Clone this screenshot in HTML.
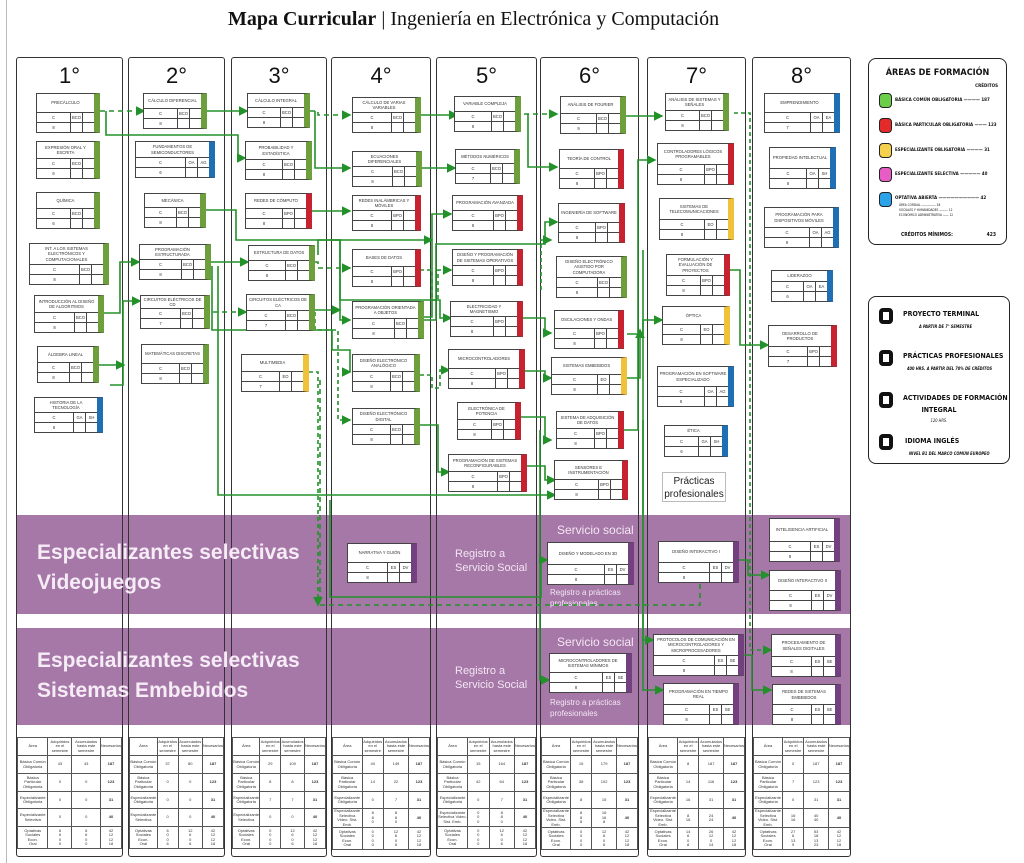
<!DOCTYPE html>
<html><head><meta charset="utf-8">
<style>
body{margin:0;width:1024px;height:863px;position:relative;background:#fff;overflow:hidden;font-family:"Liberation Sans",sans-serif}
.abs{position:absolute}
.col{position:absolute;top:57px;height:800px;border:1px solid #333;border-radius:3px;box-sizing:border-box}
.sem{position:absolute;top:5px;width:100%;text-align:center;font-size:22px;color:#111}
.band{position:absolute;left:16px;width:834px;background:#a678a8}
.bt{position:absolute;color:#f6ecf6;font-weight:bold;font-size:21px;line-height:30px}
.wt{position:absolute;color:#f3e6f3;font-size:11px;line-height:14px}
.b{position:absolute;box-sizing:border-box;border:1px solid #444;border-right:6px solid #6d9f3c;background:#fff;display:flex;flex-direction:column;font-size:4.2px;color:#333}
.b.r{border-right-color:#c62230}.b.u{border-right-color:#1f6fb4}.b.y{border-right-color:#f0c23a}.b.p{border-right-color:#73407f}
.t{flex:1;display:flex;align-items:center;justify-content:center;text-align:center;padding:0 1px;line-height:1.2}
.rw{height:9px;display:flex;border-top:1px solid #444}
.rw span{width:11px;border-left:1px solid #444;display:flex;align-items:center;justify-content:center}
.rw span:first-child{flex:1;border-left:0}
table{position:absolute;top:737px;border-collapse:collapse;font-size:4px;color:#333;background:#fff}
td{border:1px solid #555;text-align:center;padding:0;line-height:4.5px}
.leg{position:absolute;border:1.5px solid #222;border-radius:8px;box-sizing:border-box;font-family:"DejaVu Sans Condensed","DejaVu Sans",sans-serif;color:#111}
.leg div{white-space:nowrap}
.sq{position:absolute;width:13px;height:15px;border:1.5px solid #222;border-radius:4px;box-sizing:border-box}
.bk{position:absolute;width:14px;height:16px;border:4px solid #111;border-radius:4px;box-sizing:border-box}
</style></head><body>
<div class="abs" style="left:6px;top:0;width:1px;height:863px;background:#bbb"></div>
<div class="abs" style="left:228px;top:8px;font-family:'Liberation Serif',serif;font-size:20px;color:#111;white-space:nowrap"><b>Mapa Curricular</b> | Ingeniería en Electrónica y Computación</div>

<div class="band" style="top:515px;height:99px"></div>
<div class="band" style="top:628px;height:97px"></div>

<div class="col" style="left:16px;width:107px"><div class="sem">1°</div></div>
<div class="col" style="left:128px;width:97px"><div class="sem">2°</div></div>
<div class="col" style="left:231px;width:96px"><div class="sem">3°</div></div>
<div class="col" style="left:331px;width:100px"><div class="sem">4°</div></div>
<div class="col" style="left:436px;width:101px"><div class="sem">5°</div></div>
<div class="col" style="left:540px;width:99px"><div class="sem">6°</div></div>
<div class="col" style="left:647px;width:99px"><div class="sem">7°</div></div>
<div class="col" style="left:752px;width:99px"><div class="sem">8°</div></div>

<div class="bt" style="left:37px;top:538px">Especializantes selectivas<br>Videojuegos</div>
<div class="bt" style="left:37px;top:646px">Especializantes selectivas<br>Sistemas Embebidos</div>
<div class="wt" style="left:455px;top:547px">Registro a<br>Servicio Social</div>
<div class="wt" style="left:455px;top:664px">Registro a<br>Servicio Social</div>
<div class="wt" style="left:557px;top:523px;font-size:12px">Servicio social</div>
<div class="wt" style="left:557px;top:635px;font-size:12px">Servicio social</div>
<div class="wt" style="left:550px;top:587px;font-size:8px;line-height:11px">Registro a prácticas<br>profesionales</div>
<div class="wt" style="left:550px;top:697px;font-size:8px;line-height:11px">Registro a prácticas<br>profesionales</div>

<svg class="abs" style="left:0;top:0" width="1024" height="863">
<defs><marker id="a" markerWidth="6" markerHeight="6" refX="5" refY="3" orient="auto"><path d="M0,0L6,3L0,6z" fill="#23912a"/></marker></defs>
<g fill="none" stroke="#23912a" stroke-width="1.6" marker-end="url(#a)">
<path d="M100,111H144" stroke-dasharray="5,4"/>
<path d="M106,111V135H238V158H245"/>
<path d="M207,111H247"/>
<path d="M310,111H318V115H350" stroke-dasharray="5,4"/>
<path d="M315,111V168H350"/>
<path d="M312,211H350"/>
<path d="M315,262H318V268H350" stroke-dasharray="5,4"/>
<path d="M318,255V240H340V320H350"/>
<path d="M421,115H457"/>
<path d="M421,168H455"/>
<path d="M524,114H557" stroke-dasharray="5,4"/>
<path d="M528,114V167H557"/>
<path d="M624,116H662"/>
<path d="M104,313H120V262H139"/>
<path d="M110,385H123V301H140"/>
<path d="M99,365H124"/>
<path d="M210,262H248"/>
<path d="M212,266V330H332V350H350V372H350"/>
<path d="M213,312H246" stroke-dasharray="5,4"/>
<path d="M206,210H236V240H340V300H440V318H451"/>
<path d="M218,266V495H555"/>
<path d="M312,310H340"/>
<path d="M315,312V330H338V420H350" stroke-dasharray="4,3"/>
<path d="M420,317H432V214H451"/>
<path d="M420,270H432V300H438V270H451" stroke-dasharray="4,3"/>
<path d="M330,240H432V240"/>
<path d="M420,320H436V244H545V222H557"/>
<path d="M420,375H432V388H440V370H449" stroke-dasharray="4,3"/>
<path d="M420,425H438V472H449"/>
<path d="M520,318H545V333H551"/>
<path d="M524,371H545V378H551"/>
<path d="M520,417H545V440H551"/>
<path d="M527,466H545V480H555"/>
<path d="M627,334H643V320H662"/>
<path d="M626,378H640V330"/>
<path d="M624,430H638V160H655"/>
<path d="M730,270H740V345H768"/>
<path d="M734,113H750V650H771" stroke-dasharray="4,3"/>
<path d="M643,250V690H663"/>
<path d="M643,420V640H653"/>
<path d="M738,560H748V575H769"/>
<path d="M744,655H752V690H771"/>
<path d="M330,500V597H541V560H547"/>
<path d="M320,380V605H700V575" stroke-dasharray="5,4"/>
<path d="M540,430V680H549"/>
<path d="M309,372H318V605" stroke-dasharray="4,3"/>
<path d="M541,290V240H551" stroke-dasharray="4,3"/>
</g>
</svg>

<!-- col1 -->
<div class="b" style="left:36px;top:93px;width:64px;height:40px"><div class="t">PRECÁLCULO</div><div class="rw"><span>C</span><span>BCO</span><span></span></div><div class="rw"><span>8</span><span></span><span></span></div></div>
<div class="b" style="left:36px;top:141px;width:64px;height:38px"><div class="t">EXPRESIÓN ORAL Y ESCRITA</div><div class="rw"><span>C</span><span>BCO</span><span></span></div><div class="rw"><span>6</span><span></span><span></span></div></div>
<div class="b" style="left:36px;top:192px;width:64px;height:37px"><div class="t">QUÍMICA</div><div class="rw"><span>C</span><span>BCO</span><span></span></div><div class="rw"><span>6</span><span></span><span></span></div></div>
<div class="b" style="left:29px;top:243px;width:80px;height:42px"><div class="t">INT. A LOS SISTEMAS ELECTRÓNICOS Y COMPUTACIONALES</div><div class="rw"><span>C</span><span>BCO</span><span></span></div><div class="rw"><span>8</span><span></span><span></span></div></div>
<div class="b" style="left:34px;top:295px;width:70px;height:38px"><div class="t">INTRODUCCIÓN AL DISEÑO DE ALGORITMOS</div><div class="rw"><span>C</span><span>BCO</span><span></span></div><div class="rw"><span>8</span><span></span><span></span></div></div>
<div class="b" style="left:37px;top:346px;width:62px;height:37px"><div class="t">ÁLGEBRA LINEAL</div><div class="rw"><span>C</span><span>BCO</span><span></span></div><div class="rw"><span>8</span><span></span><span></span></div></div>
<div class="b u" style="left:34px;top:397px;width:69px;height:36px"><div class="t">HISTORIA DE LA TECNOLOGÍA</div><div class="rw"><span>C</span><span>GA</span><span>SH</span></div><div class="rw"><span>6</span><span></span><span></span></div></div>
<!-- col2 -->
<div class="b" style="left:143px;top:93px;width:64px;height:36px"><div class="t">CÁLCULO DIFERENCIAL</div><div class="rw"><span>C</span><span>BCO</span><span></span></div><div class="rw"><span>8</span><span></span><span></span></div></div>
<div class="b u" style="left:135px;top:141px;width:80px;height:37px"><div class="t">FUNDAMENTOS DE SEMICONDUCTORES</div><div class="rw"><span>C</span><span>OA</span><span>AG</span></div><div class="rw"><span>6</span><span></span><span></span></div></div>
<div class="b" style="left:144px;top:193px;width:62px;height:35px"><div class="t">MECÁNICA</div><div class="rw"><span>C</span><span>BCO</span><span></span></div><div class="rw"><span>8</span><span></span><span></span></div></div>
<div class="b" style="left:139px;top:244px;width:72px;height:36px"><div class="t">PROGRAMACIÓN ESTRUCTURADA</div><div class="rw"><span>C</span><span>BCO</span><span></span></div><div class="rw"><span>8</span><span></span><span></span></div></div>
<div class="b" style="left:140px;top:295px;width:70px;height:34px"><div class="t">CIRCUITOS ELÉCTRICOS DE CD</div><div class="rw"><span>C</span><span>BCO</span><span></span></div><div class="rw"><span>7</span><span></span><span></span></div></div>
<div class="b" style="left:141px;top:344px;width:68px;height:40px"><div class="t">MATEMÁTICAS DISCRETAS</div><div class="rw"><span>C</span><span>BCO</span><span></span></div><div class="rw"><span>8</span><span></span><span></span></div></div>
<!-- col3 -->
<div class="b" style="left:247px;top:93px;width:63px;height:35px"><div class="t">CÁLCULO INTEGRAL</div><div class="rw"><span>C</span><span>BCO</span><span></span></div><div class="rw"><span>8</span><span></span><span></span></div></div>
<div class="b" style="left:245px;top:141px;width:67px;height:39px"><div class="t">PROBABILIDAD Y ESTADÍSTICA</div><div class="rw"><span>C</span><span>BCO</span><span></span></div><div class="rw"><span>8</span><span></span><span></span></div></div>
<div class="b r" style="left:245px;top:193px;width:67px;height:36px"><div class="t">REDES DE CÓMPUTO</div><div class="rw"><span>C</span><span>BPO</span><span></span></div><div class="rw"><span>8</span><span></span><span></span></div></div>
<div class="b" style="left:248px;top:245px;width:67px;height:36px"><div class="t">ESTRUCTURA DE DATOS</div><div class="rw"><span>C</span><span>BCO</span><span></span></div><div class="rw"><span>8</span><span></span><span></span></div></div>
<div class="b" style="left:246px;top:294px;width:69px;height:37px"><div class="t">CIRCUITOS ELÉCTRICOS DE CA</div><div class="rw"><span>C</span><span>BCO</span><span></span></div><div class="rw"><span>7</span><span></span><span></span></div></div>
<div class="b y" style="left:241px;top:354px;width:68px;height:38px"><div class="t">MULTIMEDIA</div><div class="rw"><span>C</span><span>EO</span><span></span></div><div class="rw"><span>7</span><span></span><span></span></div></div>
<!-- col4 -->
<div class="b" style="left:352px;top:97px;width:69px;height:36px"><div class="t">CÁLCULO DE VARIAS VARIABLES</div><div class="rw"><span>C</span><span>BCO</span><span></span></div><div class="rw"><span>8</span><span></span><span></span></div></div>
<div class="b" style="left:352px;top:151px;width:70px;height:36px"><div class="t">ECUACIONES DIFERENCIALES</div><div class="rw"><span>C</span><span>BCO</span><span></span></div><div class="rw"><span>8</span><span></span><span></span></div></div>
<div class="b r" style="left:352px;top:195px;width:69px;height:36px"><div class="t">REDES INALÁMBRICAS Y MÓVILES</div><div class="rw"><span>C</span><span>BPO</span><span></span></div><div class="rw"><span>8</span><span></span><span></span></div></div>
<div class="b r" style="left:352px;top:249px;width:69px;height:38px"><div class="t">BASES DE DATOS</div><div class="rw"><span>C</span><span>BPO</span><span></span></div><div class="rw"><span>8</span><span></span><span></span></div></div>
<div class="b" style="left:352px;top:301px;width:72px;height:38px"><div class="t">PROGRAMACIÓN ORIENTADA A OBJETOS</div><div class="rw"><span>C</span><span>BCO</span><span></span></div><div class="rw"><span>8</span><span></span><span></span></div></div>
<div class="b" style="left:352px;top:354px;width:68px;height:38px"><div class="t">DISEÑO ELECTRÓNICO ANALÓGICO</div><div class="rw"><span>C</span><span>BCO</span><span></span></div><div class="rw"><span>8</span><span></span><span></span></div></div>
<div class="b" style="left:352px;top:408px;width:68px;height:37px"><div class="t">DISEÑO ELECTRÓNICO DIGITAL</div><div class="rw"><span>C</span><span>BCO</span><span></span></div><div class="rw"><span>8</span><span></span><span></span></div></div>
<!-- col5 -->
<div class="b" style="left:454px;top:96px;width:67px;height:36px"><div class="t">VARIABLE COMPLEJA</div><div class="rw"><span>C</span><span>BCO</span><span></span></div><div class="rw"><span>8</span><span></span><span></span></div></div>
<div class="b" style="left:455px;top:149px;width:65px;height:35px"><div class="t">MÉTODOS NUMÉRICOS</div><div class="rw"><span>C</span><span>BCO</span><span></span></div><div class="rw"><span>7</span><span></span><span></span></div></div>
<div class="b r" style="left:452px;top:195px;width:71px;height:36px"><div class="t">PROGRAMACIÓN AVANZADA</div><div class="rw"><span>C</span><span>BPO</span><span></span></div><div class="rw"><span>8</span><span></span><span></span></div></div>
<div class="b r" style="left:452px;top:249px;width:71px;height:37px"><div class="t">DISEÑO Y PROGRAMACIÓN DE SISTEMAS OPERATIVOS</div><div class="rw"><span>C</span><span>BPO</span><span></span></div><div class="rw"><span>8</span><span></span><span></span></div></div>
<div class="b r" style="left:450px;top:301px;width:73px;height:36px"><div class="t">ELECTRICIDAD Y MAGNETISMO</div><div class="rw"><span>C</span><span>BPO</span><span></span></div><div class="rw"><span>8</span><span></span><span></span></div></div>
<div class="b r" style="left:448px;top:349px;width:77px;height:40px"><div class="t">MICROCONTROLADORES</div><div class="rw"><span>C</span><span>BPO</span><span></span></div><div class="rw"><span>8</span><span></span><span></span></div></div>
<div class="b r" style="left:457px;top:402px;width:64px;height:38px"><div class="t">ELECTRÓNICA DE POTENCIA</div><div class="rw"><span>C</span><span>BPO</span><span></span></div><div class="rw"><span>8</span><span></span><span></span></div></div>
<div class="b r" style="left:448px;top:454px;width:79px;height:38px"><div class="t">PROGRAMACIÓN DE SISTEMAS RECONFIGURABLES</div><div class="rw"><span>C</span><span>BPO</span><span></span></div><div class="rw"><span>8</span><span></span><span></span></div></div>
<!-- col6 -->
<div class="b" style="left:560px;top:96px;width:66px;height:38px"><div class="t">ANÁLISIS DE FOURIER</div><div class="rw"><span>C</span><span>BCO</span><span></span></div><div class="rw"><span>9</span><span></span><span></span></div></div>
<div class="b r" style="left:559px;top:149px;width:65px;height:40px"><div class="t">TEORÍA DE CONTROL</div><div class="rw"><span>C</span><span>BPO</span><span></span></div><div class="rw"><span>8</span><span></span><span></span></div></div>
<div class="b r" style="left:558px;top:203px;width:67px;height:40px"><div class="t">INGENIERÍA DE SOFTWARE</div><div class="rw"><span>C</span><span>BPO</span><span></span></div><div class="rw"><span>8</span><span></span><span></span></div></div>
<div class="b" style="left:556px;top:256px;width:71px;height:42px"><div class="t">DISEÑO ELECTRÓNICO ASISTIDO POR COMPUTADORA</div><div class="rw"><span>C</span><span>BCO</span><span></span></div><div class="rw"><span>8</span><span></span><span></span></div></div>
<div class="b r" style="left:554px;top:310px;width:70px;height:39px"><div class="t">OSCILACIONES Y ONDAS</div><div class="rw"><span>C</span><span>BPO</span><span></span></div><div class="rw"><span>8</span><span></span><span></span></div></div>
<div class="b y" style="left:551px;top:357px;width:76px;height:38px"><div class="t">SISTEMAS EMBEBIDOS</div><div class="rw"><span>C</span><span>EO</span><span></span></div><div class="rw"><span>8</span><span></span><span></span></div></div>
<div class="b r" style="left:556px;top:411px;width:68px;height:38px"><div class="t">SISTEMA DE ADQUISICIÓN DE DATOS</div><div class="rw"><span>C</span><span>BPO</span><span></span></div><div class="rw"><span>8</span><span></span><span></span></div></div>
<div class="b r" style="left:554px;top:460px;width:74px;height:40px"><div class="t">SENSORES E INSTRUMENTACIÓN</div><div class="rw"><span>C</span><span>BPO</span><span></span></div><div class="rw"><span>8</span><span></span><span></span></div></div>
<!-- col7 -->
<div class="b" style="left:665px;top:93px;width:64px;height:38px"><div class="t">ANÁLISIS DE SISTEMAS Y SEÑALES</div><div class="rw"><span>C</span><span>BCO</span><span></span></div><div class="rw"><span>8</span><span></span><span></span></div></div>
<div class="b r" style="left:657px;top:143px;width:77px;height:42px"><div class="t">CONTROLADORES LÓGICOS PROGRAMABLES</div><div class="rw"><span>C</span><span>BPO</span><span></span></div><div class="rw"><span>8</span><span></span><span></span></div></div>
<div class="b y" style="left:659px;top:198px;width:75px;height:42px"><div class="t">SISTEMAS DE TELECOMUNICACIONES</div><div class="rw"><span>C</span><span>EO</span><span></span></div><div class="rw"><span>8</span><span></span><span></span></div></div>
<div class="b r" style="left:666px;top:254px;width:64px;height:42px"><div class="t">FORMULACIÓN Y EVALUACIÓN DE PROYECTOS</div><div class="rw"><span>C</span><span>BPO</span><span></span></div><div class="rw"><span>8</span><span></span><span></span></div></div>
<div class="b y" style="left:662px;top:306px;width:68px;height:39px"><div class="t">ÓPTICA</div><div class="rw"><span>C</span><span>EO</span><span></span></div><div class="rw"><span>8</span><span></span><span></span></div></div>
<div class="b u" style="left:657px;top:366px;width:77px;height:41px"><div class="t">PROGRAMACIÓN EN SOFTWARE ESPECIALIZADO</div><div class="rw"><span>C</span><span>OA</span><span>AG</span></div><div class="rw"><span>8</span><span></span><span></span></div></div>
<div class="b u" style="left:664px;top:425px;width:64px;height:32px"><div class="t">ÉTICA</div><div class="rw"><span>C</span><span>GA</span><span>SH</span></div><div class="rw"><span>6</span><span></span><span></span></div></div>
<div class="abs" style="left:662px;top:472px;width:64px;height:30px;border:1px solid #bbb;font-size:10px;text-align:center;line-height:13px;color:#222;padding-top:2px;box-sizing:border-box">Prácticas profesionales</div>
<!-- col8 -->
<div class="b u" style="left:764px;top:93px;width:76px;height:40px"><div class="t">EMPRENDIMIENTO</div><div class="rw"><span>C</span><span>OA</span><span>EA</span></div><div class="rw"><span>7</span><span></span><span></span></div></div>
<div class="b u" style="left:769px;top:147px;width:67px;height:42px"><div class="t">PROPIEDAD INTELECTUAL</div><div class="rw"><span>C</span><span>OA</span><span>SH</span></div><div class="rw"><span>6</span><span></span><span></span></div></div>
<div class="b u" style="left:764px;top:207px;width:75px;height:41px"><div class="t">PROGRAMACIÓN PARA DISPOSITIVOS MÓVILES</div><div class="rw"><span>C</span><span>OA</span><span>AG</span></div><div class="rw"><span>9</span><span></span><span></span></div></div>
<div class="b u" style="left:771px;top:270px;width:62px;height:32px"><div class="t">LIDERAZGO</div><div class="rw"><span>C</span><span>OA</span><span>EA</span></div><div class="rw"><span>6</span><span></span><span></span></div></div>
<div class="b r" style="left:768px;top:325px;width:69px;height:42px"><div class="t">DESARROLLO DE PRODUCTOS</div><div class="rw"><span>C</span><span>BPO</span><span></span></div><div class="rw"><span>7</span><span></span><span></span></div></div>
<!-- purple -->
<div class="b p" style="left:347px;top:543px;width:70px;height:40px"><div class="t">NARRATIVA Y GUIÓN</div><div class="rw"><span>C</span><span>ES</span><span>DV</span></div><div class="rw"><span>8</span><span></span><span></span></div></div>
<div class="b p" style="left:547px;top:542px;width:87px;height:43px"><div class="t">DISEÑO Y MODELADO EN 3D</div><div class="rw"><span>C</span><span>ES</span><span>DV</span></div><div class="rw"><span>8</span><span></span><span></span></div></div>
<div class="b p" style="left:658px;top:541px;width:81px;height:42px"><div class="t">DISEÑO INTERACTIVO I</div><div class="rw"><span>C</span><span>ES</span><span>DV</span></div><div class="rw"><span>8</span><span></span><span></span></div></div>
<div class="b p" style="left:769px;top:518px;width:71px;height:44px"><div class="t">INTELIGENCIA ARTIFICIAL</div><div class="rw"><span>C</span><span>ES</span><span>DV</span></div><div class="rw"><span>8</span><span></span><span></span></div></div>
<div class="b p" style="left:769px;top:570px;width:72px;height:41px"><div class="t">DISEÑO INTERACTIVO II</div><div class="rw"><span>C</span><span>ES</span><span>DV</span></div><div class="rw"><span>8</span><span></span><span></span></div></div>
<div class="b p" style="left:549px;top:653px;width:83px;height:40px"><div class="t">MICROCONTROLADORES DE SISTEMAS MÍNIMOS</div><div class="rw"><span>C</span><span>ES</span><span>SE</span></div><div class="rw"><span>8</span><span></span><span></span></div></div>
<div class="b p" style="left:653px;top:634px;width:91px;height:42px"><div class="t">PROTOCOLOS DE COMUNICACIÓN EN MICROCONTROLADORES Y MICROPROCESADORES</div><div class="rw"><span>C</span><span>ES</span><span>SE</span></div><div class="rw"><span>8</span><span></span><span></span></div></div>
<div class="b p" style="left:663px;top:683px;width:76px;height:42px"><div class="t">PROGRAMACIÓN EN TIEMPO REAL</div><div class="rw"><span>C</span><span>ES</span><span>SE</span></div><div class="rw"><span>8</span><span></span><span></span></div></div>
<div class="b p" style="left:771px;top:634px;width:70px;height:43px"><div class="t">PROCESAMIENTO DE SEÑALES DIGITALES</div><div class="rw"><span>C</span><span>ES</span><span>SE</span></div><div class="rw"><span>8</span><span></span><span></span></div></div>
<div class="b p" style="left:772px;top:684px;width:69px;height:41px"><div class="t">REDES DE SISTEMAS EMBEBIDOS</div><div class="rw"><span>C</span><span>ES</span><span>SE</span></div><div class="rw"><span>8</span><span></span><span></span></div></div>

<!-- tables -->
<table style="left:17px;width:105px"><tr style="height:18px"><td>Área</td><td>Adquiridos en el semestre</td><td>Acumulados hasta este semestre</td><td>Necesarios</td></tr><tr style="height:18px"><td>Básica Común Obligatoria</td><td>43</td><td>43</td><td><b>187</b></td></tr><tr style="height:18px"><td>Básica Particular Obligatoria</td><td>0</td><td>0</td><td><b>123</b></td></tr><tr style="height:17px"><td>Especializante Obligatoria</td><td>0</td><td>0</td><td><b>31</b></td></tr><tr style="height:18px"><td>Especializante Selectiva</td><td>0</td><td>0</td><td><b>40</b></td></tr><tr style="height:22px"><td>Optativas<br>Sociales<br>Econ.<br>Oral</td><td>6<br>6<br>0<br>0</td><td>6<br>6<br>0<br>0</td><td>42<br>12<br>12<br>18</td></tr></table>
<table style="left:129px;width:95px"><tr style="height:18px"><td>Área</td><td>Adquiridos en el semestre</td><td>Acumulados hasta este semestre</td><td>Necesarios</td></tr><tr style="height:18px"><td>Básica Común Obligatoria</td><td>37</td><td>80</td><td><b>187</b></td></tr><tr style="height:18px"><td>Básica Particular Obligatoria</td><td>0</td><td>0</td><td><b>123</b></td></tr><tr style="height:17px"><td>Especializante Obligatoria</td><td>0</td><td>0</td><td><b>31</b></td></tr><tr style="height:18px"><td>Especializante Selectiva</td><td>0</td><td>0</td><td><b>40</b></td></tr><tr style="height:22px"><td>Optativas<br>Sociales<br>Econ.<br>Oral</td><td>6<br>0<br>0<br>6</td><td>12<br>6<br>0<br>6</td><td>42<br>12<br>12<br>18</td></tr></table>
<table style="left:232px;width:94px"><tr style="height:18px"><td>Área</td><td>Adquiridos en el semestre</td><td>Acumulados hasta este semestre</td><td>Necesarios</td></tr><tr style="height:18px"><td>Básica Común Obligatoria</td><td>29</td><td>109</td><td><b>187</b></td></tr><tr style="height:18px"><td>Básica Particular Obligatoria</td><td>8</td><td>8</td><td><b>123</b></td></tr><tr style="height:17px"><td>Especializante Obligatoria</td><td>7</td><td>7</td><td><b>31</b></td></tr><tr style="height:18px"><td>Especializante Selectiva</td><td>0</td><td>0</td><td><b>40</b></td></tr><tr style="height:22px"><td>Optativas<br>Sociales<br>Econ.<br>Oral</td><td>0<br>0<br>0<br>0</td><td>12<br>6<br>0<br>6</td><td>42<br>12<br>12<br>18</td></tr></table>
<table style="left:332px;width:98px"><tr style="height:18px"><td>Área</td><td>Adquiridos en el semestre</td><td>Acumulados hasta este semestre</td><td>Necesarios</td></tr><tr style="height:18px"><td>Básica Común Obligatoria</td><td>40</td><td>149</td><td><b>187</b></td></tr><tr style="height:18px"><td>Básica Particular Obligatoria</td><td>14</td><td>22</td><td><b>123</b></td></tr><tr style="height:17px"><td>Especializante Obligatoria</td><td>0</td><td>7</td><td><b>31</b></td></tr><tr style="height:18px"><td>Especializante Selectiva Video. Sist. Emb.</td><td>8<br>8<br>0</td><td>8<br>8<br>0</td><td><b>40</b></td></tr><tr style="height:22px"><td>Optativas<br>Sociales<br>Econ.<br>Oral</td><td>0<br>0<br>0<br>0</td><td>12<br>6<br>0<br>6</td><td>42<br>12<br>12<br>18</td></tr></table>
<table style="left:437px;width:99px"><tr style="height:18px"><td>Área</td><td>Adquiridos en el semestre</td><td>Acumulados hasta este semestre</td><td>Necesarios</td></tr><tr style="height:18px"><td>Básica Común Obligatoria</td><td>15</td><td>164</td><td><b>187</b></td></tr><tr style="height:18px"><td>Básica Particular Obligatoria</td><td>42</td><td>64</td><td><b>123</b></td></tr><tr style="height:17px"><td>Especializante Obligatoria</td><td>0</td><td>7</td><td><b>31</b></td></tr><tr style="height:18px"><td>Especializante Selectiva Video. Sist. Emb.</td><td>0<br>0<br>0</td><td>8<br>8<br>0</td><td><b>40</b></td></tr><tr style="height:22px"><td>Optativas<br>Sociales<br>Econ.<br>Oral</td><td>0<br>0<br>0<br>0</td><td>12<br>6<br>0<br>6</td><td>42<br>12<br>12<br>18</td></tr></table>
<table style="left:541px;width:97px"><tr style="height:18px"><td>Área</td><td>Adquiridos en el semestre</td><td>Acumulados hasta este semestre</td><td>Necesarios</td></tr><tr style="height:18px"><td>Básica Común Obligatoria</td><td>15</td><td>179</td><td><b>187</b></td></tr><tr style="height:18px"><td>Básica Particular Obligatoria</td><td>38</td><td>102</td><td><b>123</b></td></tr><tr style="height:17px"><td>Especializante Obligatoria</td><td>8</td><td>15</td><td><b>31</b></td></tr><tr style="height:18px"><td>Especializante Selectiva Video. Sist. Emb.</td><td>8<br>8<br>8</td><td>16<br>16<br>8</td><td><b>40</b></td></tr><tr style="height:22px"><td>Optativas<br>Sociales<br>Econ.<br>Oral</td><td>0<br>0<br>0<br>0</td><td>12<br>6<br>0<br>6</td><td>42<br>12<br>12<br>18</td></tr></table>
<table style="left:648px;width:97px"><tr style="height:18px"><td>Área</td><td>Adquiridos en el semestre</td><td>Acumulados hasta este semestre</td><td>Necesarios</td></tr><tr style="height:18px"><td>Básica Común Obligatoria</td><td>8</td><td>187</td><td><b>187</b></td></tr><tr style="height:18px"><td>Básica Particular Obligatoria</td><td>14</td><td>116</td><td><b>123</b></td></tr><tr style="height:17px"><td>Especializante Obligatoria</td><td>16</td><td>31</td><td><b>31</b></td></tr><tr style="height:18px"><td>Especializante Selectiva Video. Sist. Emb.</td><td>8<br>16</td><td>24<br>24</td><td><b>40</b></td></tr><tr style="height:22px"><td>Optativas<br>Sociales<br>Econ.<br>Oral</td><td>14<br>6<br>0<br>8</td><td>26<br>12<br>0<br>14</td><td>42<br>12<br>12<br>18</td></tr></table>
<table style="left:753px;width:97px"><tr style="height:18px"><td>Área</td><td>Adquiridos en el semestre</td><td>Acumulados hasta este semestre</td><td>Necesarios</td></tr><tr style="height:18px"><td>Básica Común Obligatoria</td><td>0</td><td>187</td><td><b>187</b></td></tr><tr style="height:18px"><td>Básica Particular Obligatoria</td><td>7</td><td>123</td><td><b>123</b></td></tr><tr style="height:17px"><td>Especializante Obligatoria</td><td>0</td><td>31</td><td><b>31</b></td></tr><tr style="height:18px"><td>Especializante Selectiva Video. Sist. Emb.</td><td>16<br>16</td><td>40<br>40</td><td><b>40</b></td></tr><tr style="height:22px"><td>Optativas<br>Sociales<br>Econ.<br>Oral</td><td>27<br>6<br>13<br>9</td><td>53<br>18<br>13<br>23</td><td>42<br>12<br>12<br>18</td></tr></table>

<!-- legend 1 -->
<div class="leg" style="left:868px;top:58px;width:139px;height:187px">
<div class="abs" style="left:0;width:100%;top:9px;text-align:center;font-size:9px;font-weight:bold">ÁREAS DE FORMACIÓN</div>
<div class="abs" style="right:8px;top:25px;font-size:4.5px;font-weight:bold">CRÉDITOS</div>
<div class="sq" style="left:10px;top:34px;background:#6ccd4a"></div><div class="abs" style="left:26px;top:39px;font-size:4.5px;font-weight:bold">BÁSICA COMÚN OBLIGATORIA ———— 187</div>
<div class="sq" style="left:10px;top:59px;background:#e52a2a"></div><div class="abs" style="left:26px;top:64px;font-size:4.5px;font-weight:bold">BÁSICA PARTICULAR OBLIGATORIA ——— 123</div>
<div class="sq" style="left:10px;top:84px;background:#f6d14d"></div><div class="abs" style="left:26px;top:89px;font-size:4.5px;font-weight:bold">ESPECIALIZANTE OBLIGATORIA ———— 31</div>
<div class="sq" style="left:10px;top:108px;background:#e85cc6"></div><div class="abs" style="left:26px;top:113px;font-size:4.5px;font-weight:bold">ESPECIALIZANTE SELECTIVA ————— 40</div>
<div class="sq" style="left:10px;top:133px;background:#2aa3ea"></div><div class="abs" style="left:26px;top:137px;font-size:4.5px;font-weight:bold">OPTATIVA ABIERTA —————————— 42</div>
<div class="abs" style="left:30px;top:144px;font-size:3.2px;line-height:5px">ÁREA CORDIAL ————— 18<br>SOCIALES Y HUMANIDADES ——— 12<br>ECONÓMICO ADMINISTRATIVA —— 12</div>
<div class="abs" style="left:32px;top:173px;font-size:5px;font-weight:bold">CRÉDITOS MÍNIMOS:</div><div class="abs" style="right:10px;top:173px;font-size:5px;font-weight:bold">423</div>
</div>
<!-- legend 2 -->
<div class="leg" style="left:868px;top:296px;width:142px;height:168px">
<div class="bk" style="left:10px;top:11px"></div><div class="abs" style="left:34px;top:13px;font-size:7px;font-weight:bold">PROYECTO TERMINAL</div><div class="abs" style="left:50px;top:27px;font-size:4px;font-style:italic;font-weight:bold">A PARTIR DE 7° SEMESTRE</div>
<div class="bk" style="left:10px;top:53px"></div><div class="abs" style="left:34px;top:55px;font-size:7px;font-weight:bold">PRÁCTICAS PROFESIONALES</div><div class="abs" style="left:38px;top:69px;font-size:4px;font-style:italic;font-weight:bold">400 HRS. A PARTIR DEL 70% DE CRÉDITOS</div>
<div class="bk" style="left:10px;top:95px"></div><div class="abs" style="left:34px;top:95px;font-size:7px;font-weight:bold;line-height:12px">ACTIVIDADES DE FORMACIÓN</div><div class="abs" style="left:0;width:100%;text-align:center;top:107px;font-size:7px;font-weight:bold;line-height:12px">INTEGRAL</div><div class="abs" style="left:0;width:100%;text-align:center;top:121px;font-size:4px;font-style:italic">120 HRS.</div>
<div class="bk" style="left:10px;top:137px"></div><div class="abs" style="left:36px;top:140px;font-size:7px;font-weight:bold">IDIOMA INGLÉS</div><div class="abs" style="left:40px;top:154px;font-size:4px;font-style:italic;font-weight:bold">NIVEL B1 DEL MARCO COMÚN EUROPEO</div>
</div>
</body></html>
